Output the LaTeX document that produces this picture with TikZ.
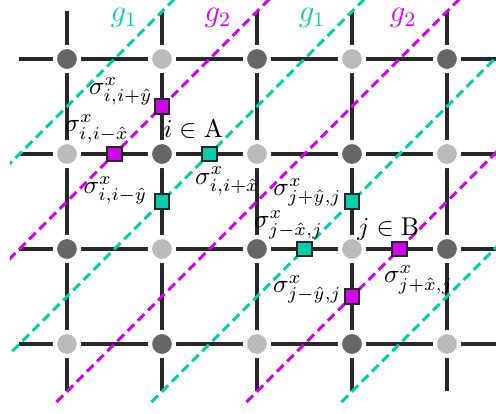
\documentclass[tikz,border=0pt]{standalone}
\usepackage{amsmath,amssymb}
\usepackage{xcolor}
\definecolor{gone}{RGB}{0,208,170}
\definecolor{gtwo}{RGB}{212,0,240}
\definecolor{bond}{RGB}{40,40,40}
\definecolor{siteA}{RGB}{102,102,102}
\definecolor{siteB}{RGB}{187,187,187}

\begin{document}
\begin{tikzpicture}[x=1.3cm, y=1.3cm,
  site/.style={circle, inner sep=0pt, minimum size=9.4pt, draw=white, line width=1.6pt},
  spin/.style={rectangle, inner sep=0pt, minimum size=5.6pt, draw=bond, line width=0.7pt},
  gline/.style={line width=1.2pt, dash pattern=on 3.6pt off 2pt},
  lab/.style={inner sep=0pt}]
  \useasboundingbox (-0.705,-0.737) rectangle (4.516,3.621);

  % Lattice bonds
  \foreach \r in {0,...,3}
    \draw[bond, line width=1.5pt] (-0.5,\r) -- (4.55,\r);
  \foreach \c in {0,...,4}
    \draw[bond, line width=1.5pt] (\c,-0.5) -- (\c,3.5);

  % Gauge strings g1 / g2
  \begin{scope}
    \clip (-0.6,-0.632) rectangle (4.6,3.7);
    \foreach \k/\col in {-2.5/gone,-1.5/gtwo,-0.5/gone,0.5/gtwo,1.5/gone,2.5/gtwo,3.5/gone}
      \draw[gline, \col] (\k-5,-5) -- (\k+5,5);
  \end{scope}
  \node[gone, font=\large] (g1a) at (0.6,3.43) {$g_1$};
  \node[gtwo, font=\large] (g2a) at (1.59,3.43) {$g_2$};
  \node[gone, font=\large] (g1b) at (2.58,3.43) {$g_1$};
  \node[gtwo, font=\large] (g2b) at (3.54,3.43) {$g_2$};

  % Sites (checkerboard A/B)
  \foreach \c in {0,...,4}
    \foreach \r in {0,...,3} {
      \pgfmathtruncatemacro{\parity}{mod(\c+\r,2)}
      \ifnum\parity=1 \def\sitecol{siteA}\else\def\sitecol{siteB}\fi
      \node[site, fill=\sitecol] (s-\c-\r) at (\c,\r) {};
    }

  % Spins around i
  \node[spin, fill=gtwo] (up-i) at (1,2.5) {};
  \node[spin, fill=gtwo] (lf-i) at (0.5,2) {};
  \node[spin, fill=gone] (rt-i) at (1.5,2) {};
  \node[spin, fill=gone] (dn-i) at (1,1.5) {};
  % Spins around j
  \node[spin, fill=gone] (up-j) at (3,1.5) {};
  \node[spin, fill=gone] (lf-j) at (2.5,1) {};
  \node[spin, fill=gtwo] (rt-j) at (3.5,1) {};
  \node[spin, fill=gtwo] (dn-j) at (3,0.5) {};

  % Labels
  \node[lab, anchor=base west] (l-i) at ([shift={(0.4pt,6.6pt)}]s-1-2.center) {$i\in\mathrm{A}$};
  \node[lab, anchor=base west] (l-j) at ([shift={(1.9pt,5.1pt)}]s-3-1.center) {$j\in\mathrm{B}$};
  \node[lab, anchor=base east] (l-up-i) at ([shift={(-3.5pt,4.7pt)}]up-i.center) {$\sigma^x_{i,i+\hat{y}}$};
  \node[lab, anchor=base east] (l-lf-i) at ([shift={(5.8pt,8.6pt)}]lf-i.center) {$\sigma^x_{i,i-\hat{x}}$};
  \node[lab, anchor=base west] (l-rt-i) at ([shift={(-5.8pt,-11.7pt)}]rt-i.center) {$\sigma^x_{i,i+\hat{x}}$};
  \node[lab, anchor=base east] (l-dn-i) at ([shift={(-5.5pt,3.1pt)}]dn-i.center) {$\sigma^x_{i,i-\hat{y}}$};
  \node[lab, anchor=base east] (l-up-j) at ([shift={(-3.9pt,2.3pt)}]up-j.center) {$\sigma^x_{j+\hat{y},j}$};
  \node[lab, anchor=base east] (l-lf-j) at ([shift={(7.4pt,8.2pt)}]lf-j.center) {$\sigma^x_{j-\hat{x},j}$};
  \node[lab, anchor=base west] (l-rt-j) at ([shift={(-6.2pt,-13.2pt)}]rt-j.center) {$\sigma^x_{j+\hat{x},j}$};
  \node[lab, anchor=base east] (l-dn-j) at ([shift={(-3.9pt,1.6pt)}]dn-j.center) {$\sigma^x_{j-\hat{y},j}$};
\end{tikzpicture}
\end{document}
